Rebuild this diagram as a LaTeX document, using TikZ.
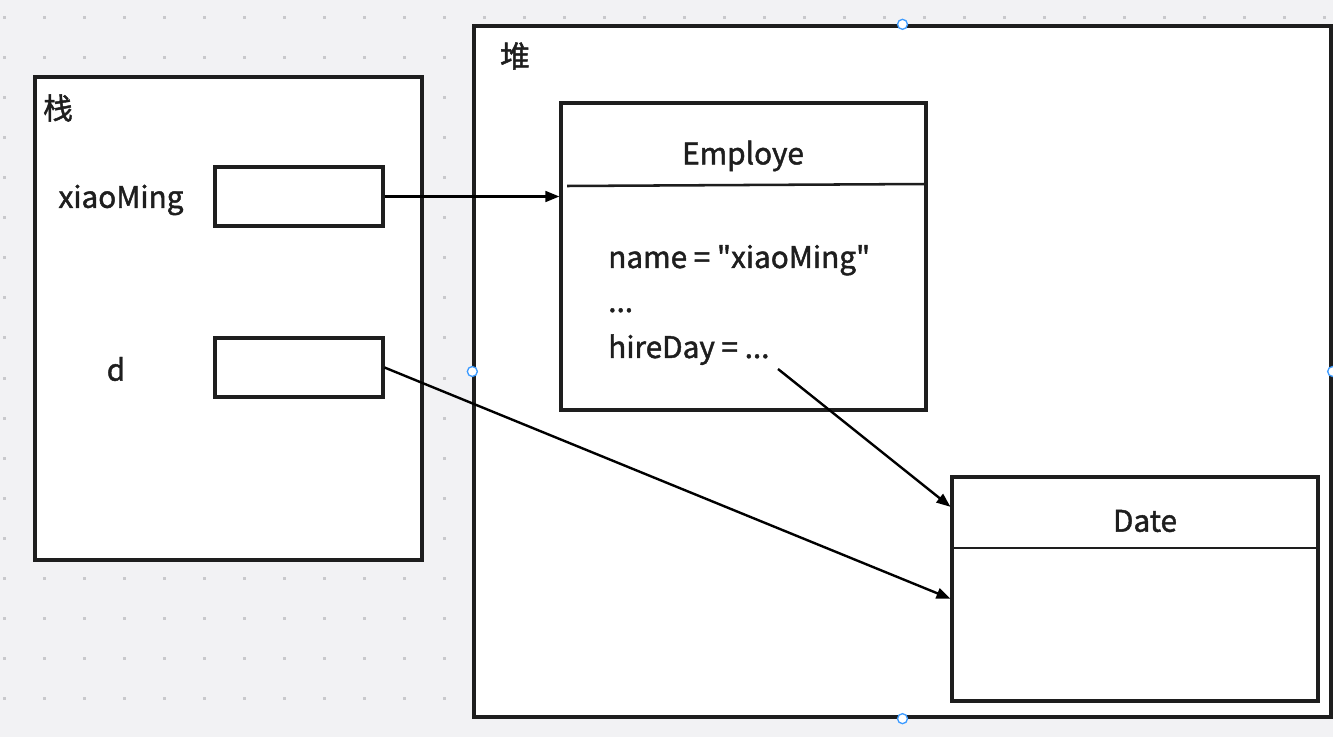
\documentclass[tikz,border=0pt]{standalone}
\usepackage{fontspec}
\setmainfont[FakeBold=1.5]{Noto Sans CJK SC}
\newfontfamily\qfont[FakeBold=1.5]{Noto Sans CJK SC}
\usetikzlibrary{arrows.meta,positioning,calc}
\definecolor{cbg}{HTML}{F2F2F4}
\definecolor{cdot}{HTML}{C9C9CC}
\definecolor{cink}{HTML}{1E1E1E}
\definecolor{chdl}{HTML}{3D9BFF}
\newcommand{\sq}{{\qfont"}}
\tikzset{
  sz/.style 2 args={minimum width=#1*0.75pt,minimum height=#2*0.75pt},
  frame/.style={draw=cink,fill=white,line width=2.5pt,inner sep=0pt},
  slot/.style={draw=cink,fill=white,line width=2.3pt,inner sep=0pt},
  cls/.style={draw=cink,fill=white,line width=2.3pt,inner sep=0pt},
  sep/.style={draw=cink,line width=1.9pt},
  arr/.style={-{Triangle[length=10.5pt,width=8pt]},line width=1.8pt,draw=black},
  lbl/.style={font=\fontsize{22.3}{26}\selectfont,text=cink,inner sep=0pt},
  hdl/.style={circle,draw=chdl,fill=white,line width=1pt,minimum size=7.5pt,inner sep=0pt},
}
\begin{document}
\begin{tikzpicture}[x=0.75pt,y=-0.75pt]
  \useasboundingbox (0,0) rectangle (1333,737);
  \fill[cbg] (0,0) rectangle (1333,737);
  % grid dots
  \foreach \i in {0,...,33} { \foreach \j in {0,...,18} {
    \fill[cdot] (4+40*\i-1.5,18+40*\j-1.5) rectangle ++(3,3);
  } }
  % stack
  \node[frame,sz={387}{483}] (stk) at (228.5,318.5) {};
  \node[lbl] (stkL) at (58,108) {栈};
  \node[lbl] (xmL) at (121,200) {xiaoMing};
  \node[slot,sz={168}{59}] (slotA) at (299,196.5) {};
  \node[lbl] (dL) at (116,369) {d};
  \node[slot,sz={168}{59}] (slotD) at (299,367.5) {};
  % heap
  \node[frame,sz={857}{691}] (heap) at (902.5,371.5) {};
  \node[lbl] (heapL) at (515,56) {堆};
  % Employe
  \node[cls,sz={365}{307}] (emp) at (743.5,256.5) {};
  \node[lbl] (empT) at (743,156) {Employe};
  \draw[sep] (567,186) -- (emp.east |- 0,184);
  \node[lbl,anchor=base west] (f1) at (608,268) {name = \sq xiaoMing\sq};
  \node[lbl,anchor=base west] (f2) at (608,312) {...};
  \node[lbl,anchor=base west] (f3) at (608,358) {hireDay = ...};
  \coordinate (hd) at (778,369);
  % Date
  \node[cls,sz={366}{224}] (date) at (1135,589) {};
  \node[lbl] (dateT) at (1145,521) {Date};
  \draw[sep] (date.west |- 0,548) -- (date.east |- 0,548);
  % references
  \draw[arr] (slotA.east) -- (slotA.east -| emp.west);
  \draw[arr] (hd) -- (date.156);
  \draw[arr] (slotD.east) -- (date.183);
  % handles
  \foreach \a in {north,west,south,east} { \node[hdl] (h\a) at (heap.\a) {}; }
\end{tikzpicture}
\end{document}
